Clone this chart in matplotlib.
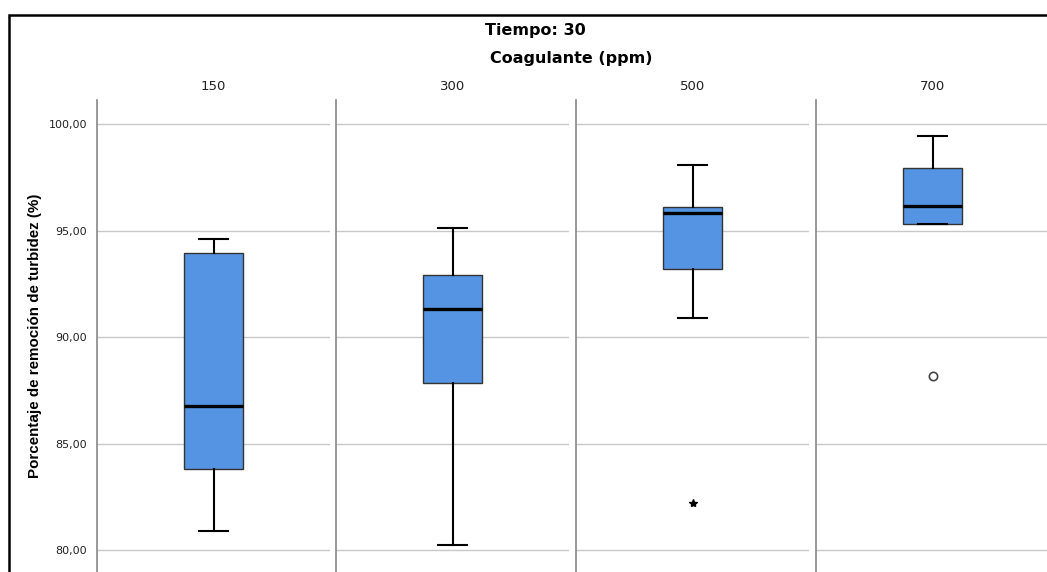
import matplotlib
matplotlib.use("Agg")
import matplotlib.pyplot as plt
from matplotlib.patches import Rectangle
from matplotlib.ticker import FuncFormatter

# datos (Tiempo: 30)
categorias = ["150", "300", "500", "700"]
bigote_inf = [80.89, 80.23, 90.89, 95.32]
q1 = [83.80, 87.84, 93.19, 95.32]
mediana = [86.76, 91.31, 95.82, 96.16]
q3 = [93.94, 92.91, 96.10, 97.95]
bigote_sup = [94.60, 95.12, 98.08, 99.44]
extremos = [[], [], [82.21], []]     # marcados con *
atipicos = [[], [], [], [88.17]]     # marcados con o
ticks_y = [80, 85, 90, 95, 100]

W, H = 1047, 572
fig = plt.figure(figsize=(W / 100, H / 100), dpi=100)
fig.patch.set_facecolor("white")

azul = "#5594e3"
izq = [97, 336, 576, 816]
ancho = 233
arriba = 100

for i, cat in enumerate(categorias):
    ax = fig.add_axes([izq[i] / W, 0, ancho / W, 1 - arriba / H])
    stats = [{
        "whislo": bigote_inf[i], "q1": q1[i], "med": mediana[i],
        "q3": q3[i], "whishi": bigote_sup[i], "fliers": [],
    }]
    ax.bxp(stats, positions=[0.5], widths=0.25, patch_artist=True,
           showfliers=False,
           boxprops=dict(facecolor=azul, edgecolor="#333333", linewidth=1.0),
           medianprops=dict(color="black", linewidth=2.4),
           whiskerprops=dict(color="black", linewidth=1.5),
           capprops=dict(color="black", linewidth=1.5),
           capwidths=0.125, zorder=3)
    if extremos[i]:
        ax.plot([0.5] * len(extremos[i]), extremos[i], marker="*",
                color="black", markersize=6, linestyle="none", zorder=4)
    if atipicos[i]:
        ax.plot([0.5] * len(atipicos[i]), atipicos[i], marker="o",
                mfc="none", mec="#444444", markersize=6, mew=1.2,
                linestyle="none", zorder=4)

    ax.set_xlim(0, 1)
    ax.set_ylim(78.97, 101.13)
    ax.set_yticks(ticks_y)
    ax.yaxis.grid(True, color="#c8c8c8", linewidth=1)
    ax.set_axisbelow(True)
    ax.set_xticks([])
    for s in ["top", "right", "bottom"]:
        ax.spines[s].set_visible(False)
    ax.spines["left"].set_color("#888888")
    ax.spines["left"].set_linewidth(1.2)
    ax.tick_params(axis="y", length=0, pad=7, labelsize=8, labelcolor="#222222")
    if i == 0:
        ax.yaxis.set_major_formatter(
            FuncFormatter(lambda v, p: f"{v:.2f}".replace(".", ",")))
        ax.set_ylabel("Porcentaje de remoción de turbidez (%)",
                      family=["Liberation Sans Narrow", "Liberation Sans", "DejaVu Sans"],
                      fontweight="bold", fontsize=10.9, labelpad=5)
    else:
        ax.set_yticklabels([])
    ax.set_title(cat, fontsize=9.5, color="#222222", pad=7)

# titulos
fig.text(535 / W, 1 - 30 / H, "Tiempo: 30", ha="center", va="center",
         fontsize=11.5, fontweight="bold")
fig.text(571 / W, 1 - 58 / H, "Coagulante (ppm)", ha="center", va="center",
         fontsize=11.5, fontweight="bold")

# marco exterior
fig.add_artist(Rectangle((9 / W, -0.2), 1.2, 1 - 15 / H + 0.2,
                         transform=fig.transFigure, fill=False,
                         edgecolor="black", linewidth=1.8, clip_on=False))

fig.savefig("out.png", dpi=100)
